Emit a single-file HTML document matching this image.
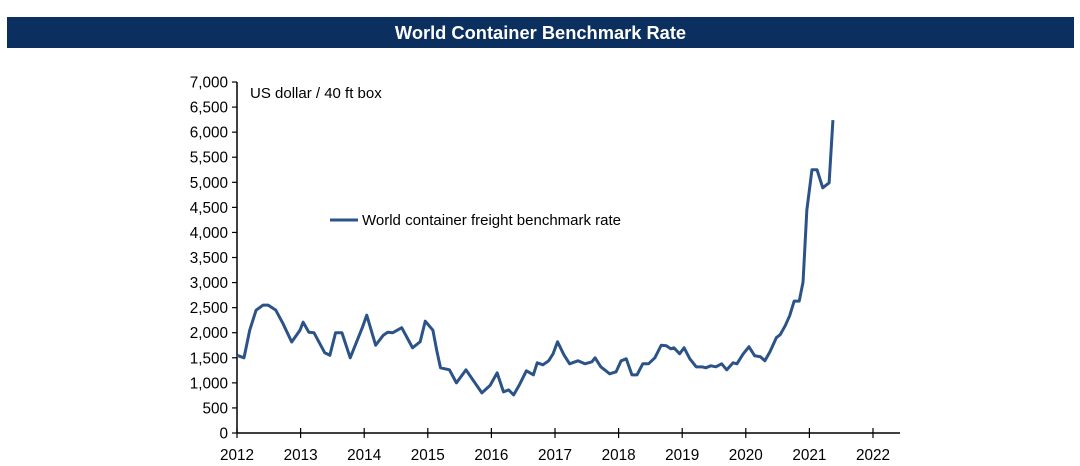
<!DOCTYPE html>
<html><head><meta charset="utf-8"><style>
body{margin:0;background:#fff;width:1080px;height:466px;overflow:hidden;font-family:"Liberation Sans",sans-serif}
#title{position:absolute;left:7px;top:17px;width:1067px;height:31px;background:#0b2f5e;color:#fff;font-weight:bold;font-size:18.3px;text-align:center;line-height:31px}
svg{position:absolute;left:0;top:0}
</style></head><body>
<div id="title">World Container Benchmark Rate</div>
<svg id="c" width="1080" height="466"></svg>
<script>
const times=[2012.0,2012.11,2012.2,2012.3,2012.41,2012.49,2012.61,2012.72,2012.86,2012.99,2013.04,2013.13,2013.21,2013.38,2013.46,2013.55,2013.65,2013.78,2013.97,2014.04,2014.18,2014.3,2014.37,2014.45,2014.59,2014.76,2014.88,2014.96,2015.08,2015.14,2015.2,2015.34,2015.45,2015.6,2015.85,2015.98,2016.09,2016.19,2016.27,2016.35,2016.44,2016.55,2016.66,2016.72,2016.81,2016.9,2016.97,2017.04,2017.14,2017.23,2017.36,2017.47,2017.58,2017.63,2017.72,2017.86,2017.96,2018.04,2018.12,2018.21,2018.29,2018.38,2018.47,2018.57,2018.67,2018.75,2018.82,2018.87,2018.96,2019.03,2019.12,2019.22,2019.31,2019.37,2019.45,2019.53,2019.62,2019.7,2019.8,2019.86,2019.96,2020.05,2020.14,2020.23,2020.3,2020.38,2020.48,2020.54,2020.62,2020.69,2020.76,2020.84,2020.9,2020.96,2021.04,2021.12,2021.21,2021.31,2021.37];
const rates=[1550,1500,2050,2450,2550,2550,2450,2190,1815,2050,2210,2010,2000,1600,1550,2000,2000,1500,2100,2350,1750,1950,2010,2000,2100,1700,1820,2230,2050,1650,1300,1260,1000,1260,800,950,1200,820,860,760,960,1240,1160,1400,1360,1440,1580,1820,1560,1380,1440,1380,1420,1500,1320,1180,1220,1440,1480,1160,1160,1380,1380,1500,1750,1740,1680,1700,1580,1700,1480,1320,1320,1300,1340,1320,1380,1260,1400,1380,1580,1720,1540,1520,1440,1620,1900,1960,2140,2340,2630,2630,3010,4450,5250,5250,4890,4990,6240];
const yTicks=[0,500,1000,1500,2000,2500,3000,3500,4000,4500,5000,5500,6000,6500,7000];
const xTicks=[2012,2013,2014,2015,2016,2017,2018,2019,2020,2021,2022];
const NS="http://www.w3.org/2000/svg",svg=document.getElementById('c');
const X=t=>237+(t-2012)*63.6, Y=v=>433-v*0.05014;
function mk(tag,at,parent){const e=document.createElementNS(NS,tag);for(const k in at)e.setAttribute(k,at[k]);(parent||svg).appendChild(e);return e;}
let e;
e=mk('line',{x1:237,y1:82,x2:237,y2:433,stroke:'#000','stroke-width':1.5});


e=mk('line',{x1:237,y1:433,x2:900,y2:433,stroke:'#000','stroke-width':1.5});


yTicks.forEach(v=>{
 mk('line',{x1:232,y1:Y(v),x2:237,y2:Y(v),stroke:'#000','stroke-width':1.2});
 e=mk('text',{x:228,y:Y(v)+5.5,'text-anchor':'end','font-size':15.3,fill:'#000'});
 e.textContent=v.toLocaleString('en-US');
 
 
});
xTicks.forEach(t=>{
 mk('line',{x1:X(t),y1:428,x2:X(t),y2:438,stroke:'#000','stroke-width':1.2});
 e=mk('text',{x:X(t),y:460,'text-anchor':'middle','font-size':15.3,fill:'#000'});
 e.textContent=t;
 
 
});
e=mk('polyline',{points:times.map((t,i)=>X(t)+','+Y(rates[i])).join(' '),fill:'none',stroke:'#2b5388','stroke-width':3,'stroke-linejoin':'round'});


e=mk('text',{x:250,y:98,'font-size':15,fill:'#000'});e.textContent='US dollar / 40 ft box';


e=mk('line',{x1:330,y1:220,x2:358,y2:220,stroke:'#2b5388','stroke-width':3});


e=mk('text',{x:362,y:225,'font-size':15,fill:'#000'});e.textContent='World container freight benchmark rate';


</script>
</body></html>
